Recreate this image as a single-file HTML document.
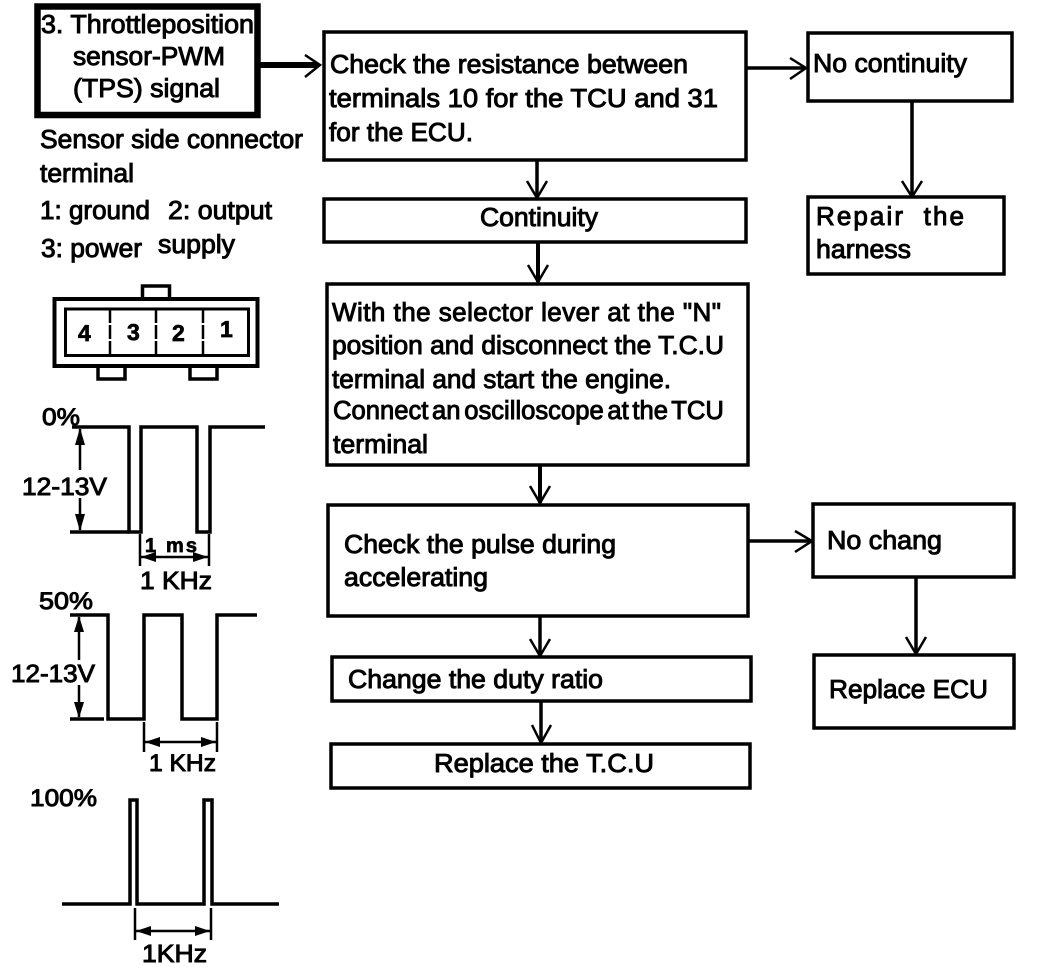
<!DOCTYPE html>
<html>
<head>
<meta charset="utf-8">
<style>
html,body{margin:0;padding:0;background:#fff;}
svg{display:block;}
text{font-family:"Liberation Sans",sans-serif;font-size:26px;fill:#000;stroke:#000;stroke-width:.95px;}
.b{font-weight:bold;stroke-width:.7px;}
rect{fill:#fff;stroke:#000;stroke-width:3.5px;}
.l{fill:none;stroke:#000;stroke-width:3.5px;stroke-linejoin:miter;}
.a{fill:none;stroke:#000;stroke-width:2.5px;stroke-linejoin:miter;}
.t{fill:none;stroke:#000;stroke-width:2.5px;}
.h{fill:#000;stroke:none;}
</style>
</head>
<body>
<svg width="1056" height="974" viewBox="0 0 1056 974" xmlns="http://www.w3.org/2000/svg" text-rendering="geometricPrecision">
<!-- connectors -->
<path class="l" style="stroke-width:6" d="M260 65H318"/>
<path class="a" d="M305 55L320 65L305 77"/>
<path class="l" d="M747 68H804"/><path class="a" d="M790 58L806 68L790 79"/>
<path class="l" d="M912 102V196"/><path class="a" d="M902 181L912 197L922 181"/>
<path class="l" d="M537 161V198"/><path class="a" d="M527 181L537 198L547 181"/>
<path class="l" style="stroke-width:4" d="M538 243V282"/><path class="a" d="M528 265L538 282L548 265"/>
<path class="l" style="stroke-width:4" d="M540 465V503"/><path class="a" d="M530 486L540 503L550 486"/>
<path class="l" d="M749 541H811"/><path class="a" d="M795 531L812 541L795 552"/>
<path class="l" d="M916 578V653"/><path class="a" d="M906 637L916 654L926 637"/>
<path class="l" d="M540 617V655"/><path class="a" d="M530 639L540 656L550 639"/>
<path class="l" d="M541 702V742"/><path class="a" d="M532 725L541 743L551 725"/>
<!-- boxes -->
<rect x="37.5" y="6.5" width="220" height="108.5" style="stroke-width:6.5"/>
<rect x="324" y="32" width="422" height="128"/>
<rect x="808" y="33" width="204" height="68"/>
<rect x="808" y="197" width="196" height="77"/>
<rect x="324" y="199" width="422" height="43"/>
<rect x="327" y="284" width="421" height="181"/>
<rect x="328" y="505" width="420" height="111"/>
<rect x="813" y="504" width="201" height="73"/>
<rect x="814" y="655" width="200" height="73"/>
<rect x="332" y="657" width="419" height="44"/>
<rect x="331" y="744" width="419" height="44"/>
<!-- flow text -->
<text x="41" y="33" textLength="213" lengthAdjust="spacingAndGlyphs">3. Throttleposition</text>
<text x="73" y="65" textLength="152" lengthAdjust="spacingAndGlyphs">sensor-PWM</text>
<text x="73" y="97" textLength="147" lengthAdjust="spacingAndGlyphs">(TPS) signal</text>
<text x="40" y="148" textLength="263" lengthAdjust="spacingAndGlyphs">Sensor side connector</text>
<text x="40" y="182" textLength="94" lengthAdjust="spacingAndGlyphs">terminal</text>
<text x="40" y="219" textLength="110" lengthAdjust="spacingAndGlyphs">1: ground</text>
<text x="168" y="219" textLength="104" lengthAdjust="spacingAndGlyphs">2: output</text>
<text x="41" y="257" textLength="101" lengthAdjust="spacingAndGlyphs">3: power</text>
<text x="158" y="253" textLength="77" lengthAdjust="spacingAndGlyphs">supply</text>
<text x="330" y="73" textLength="358" lengthAdjust="spacingAndGlyphs">Check the resistance between</text>
<text x="329" y="107" textLength="389" lengthAdjust="spacingAndGlyphs">terminals 10 for the TCU and 31</text>
<text x="329" y="141" textLength="144" lengthAdjust="spacingAndGlyphs">for the ECU.</text>
<text x="813" y="72" textLength="154" lengthAdjust="spacingAndGlyphs">No continuity</text>
<text x="816" y="225" textLength="148" lengthAdjust="spacing" xml:space="preserve">Repair  the</text>
<text x="816" y="258" textLength="95" lengthAdjust="spacingAndGlyphs">harness</text>
<text x="480" y="226" textLength="118" lengthAdjust="spacingAndGlyphs">Continuity</text>
<text x="332" y="321" textLength="389" lengthAdjust="spacing">With the selector lever at the "N"</text>
<text x="332" y="354" textLength="392" lengthAdjust="spacingAndGlyphs">position and disconnect the T.C.U</text>
<text x="332" y="388" textLength="339" lengthAdjust="spacingAndGlyphs">terminal and start the engine.</text>
<text transform="translate(333 419) scale(.985 1)" style="word-spacing:-3.5px">Connect an oscilloscope at the TCU</text>
<text x="333" y="453" textLength="95" lengthAdjust="spacingAndGlyphs">terminal</text>
<text x="344" y="553" textLength="272" lengthAdjust="spacingAndGlyphs">Check the pulse during</text>
<text x="344" y="586" textLength="144" lengthAdjust="spacingAndGlyphs">accelerating</text>
<text x="827" y="549" textLength="115" lengthAdjust="spacingAndGlyphs">No chang</text>
<text x="348" y="688" textLength="255" lengthAdjust="spacingAndGlyphs">Change the duty ratio</text>
<text x="434" y="772" textLength="220" lengthAdjust="spacingAndGlyphs">Replace the T.C.U</text>
<text x="829" y="698" textLength="159" lengthAdjust="spacingAndGlyphs">Replace ECU</text>
<!-- sensor connector -->
<rect x="142.5" y="286" width="27" height="14"/>
<rect x="98" y="366" width="27" height="13"/>
<rect x="190" y="366" width="27" height="13"/>
<rect x="54.5" y="299" width="203" height="67" style="stroke-width:4"/>
<rect x="65.5" y="309" width="183" height="46.5" style="stroke-width:3"/>
<path class="t" d="M110 309V355M156 309V355M203 309V355" stroke-dasharray="14 2"/>
<text class="b" x="78" y="341" style="font-size:23px">4</text>
<text class="b" x="127" y="340" style="font-size:23px">3</text>
<text class="b" x="172" y="341" style="font-size:23px">2</text>
<text class="b" x="220" y="337" style="font-size:23px">1</text>
<!-- 0% waveform -->
<path class="l" d="M72 427H129V532H141V427H197V532H210V427H265"/>
<path class="l" d="M70 532H129"/>
<path class="t" d="M80 429V470M80 498V530"/>
<path class="h" d="M80 428L85 445H75ZM80 531L85 514H75Z"/>
<path class="t" d="M140 534V566M209 534V566M141 557H208"/>
<path class="h" d="M141 557L156 552V562ZM208 557L193 552V562Z"/>
<text x="42" y="425" textLength="38" lengthAdjust="spacingAndGlyphs" style="font-size:24px">0%</text>
<text x="22" y="495" textLength="85" lengthAdjust="spacingAndGlyphs" style="font-size:25px">12-13V</text>
<text class="b" x="145" y="552" textLength="52" lengthAdjust="spacing" style="font-size:20px" xml:space="preserve">1 ms</text>
<text x="140" y="589" textLength="72" lengthAdjust="spacingAndGlyphs" style="font-size:25px">1 KHz</text>
<!-- 50% waveform -->
<path class="l" d="M70 615H108V719H144V615H182V719H217V615H257"/>
<path class="l" d="M70 719H104"/>
<path class="t" d="M79 617V660M79 685V717"/>
<path class="h" d="M79 616L84 632H74ZM79 718L84 702H74Z"/>
<path class="t" d="M144 722V752M217 722V752M145 742H216"/>
<path class="h" d="M145 742L160 737V747ZM216 742L201 737V747Z"/>
<text x="39" y="609" textLength="54" lengthAdjust="spacingAndGlyphs" style="font-size:24px">50%</text>
<text x="11" y="682" textLength="84" lengthAdjust="spacingAndGlyphs" style="font-size:25px">12-13V</text>
<text x="149" y="771" textLength="67" lengthAdjust="spacingAndGlyphs" style="font-size:24px">1 KHz</text>
<!-- 100% waveform -->
<path class="l" d="M62 904H130V800H137V904H204V800H212V904H279"/>
<path class="t" d="M135 908V940M211 908V940M136 931H210"/>
<path class="h" d="M136 931L151 926V936ZM210 931L195 926V936Z"/>
<text x="30" y="806" textLength="67" lengthAdjust="spacingAndGlyphs" style="font-size:24px">100%</text>
<text x="142" y="962" textLength="65" lengthAdjust="spacingAndGlyphs" style="font-size:25px">1KHz</text>
</svg>
</body>
</html>
